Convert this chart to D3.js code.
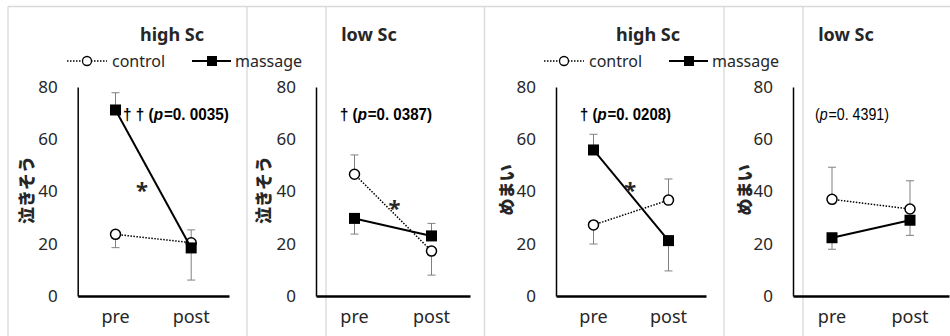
<!DOCTYPE html>
<html>
<head>
<meta charset="utf-8">
<script src="https://cdn.jsdelivr.net/npm/d3@7"></script>
<style>
  html, body { margin: 0; padding: 0; background: #fff; }
  svg { display: block; font-family: "Noto Sans", "Open Sans", sans-serif; }
</style>
</head>
<body>
<div id="chart"></div>
<script>
// data
const categories = ['pre', 'post'];
const yTicks = [0, 20, 40, 60, 80];
const panelTitles = ['high Sc', 'low Sc', 'high Sc', 'low Sc'];
const yLabels = ['泣きそう', '泣きそう', 'めまい', 'めまい'];
const seriesNames = ['control', 'massage'];
const controlMeans = [[23.6, 20.4], [46.6, 17.2], [27.2, 36.7], [37.0, 33.3]];
// signed error: + is drawn upward, - downward
const controlErr = [[-5.1, 4.9], [7.4, -9.2], [-7.3, 8.1], [12.3, 10.8]];
const massageMeans = [[71.2, 18.4], [29.7, 23.0], [55.9, 21.2], [22.3, 29.0]];
const massageErr = [[6.6, -12.3], [-6.0, 4.8], [6.0, -11.6], [-4.4, -5.8]];
const daggers = ['† † (', '† (', '† (', '('];
const pValues = ['=0. 0035)', '=0. 0387)', '=0. 0208)', '=0. 4391)'];
const significant = [true, true, true, false];
const starValues = [41, 34, 41, null];

// settings
const width = 950;
const height = 336;
const axisLeft = [77.7, 316, 556, 793];
const axisRight = [229, 470, 706, 949];
const yTop = 87;
const yBottom = 296;
const frameX = [8, 247, 326, 484.5, 724, 803];
const titleX = [172, 369, 648, 846];
const yLabelX = [25, 262, 505, 743];
const noteX = [123, 340, 580, 815];
const noteWidth = [106, 92, 91, 74];
const starFrac = [0.35, 0.52, 0.49, 0];
const legendX = [67, 544];

const svg = d3.select('#chart')
  .append('svg')
  .attr('width', width)
  .attr('height', height)
  .attr('viewBox', `0 0 ${width} ${height}`);

// light frames
const frame = svg.append('g').attr('stroke', '#d9d9d9').attr('stroke-width', 1.3);
frame.append('line').attr('x1', 8).attr('x2', width).attr('y1', 6.5).attr('y2', 6.5);
frameX.forEach(x => {
  frame.append('line').attr('x1', x).attr('x2', x).attr('y1', 6.5).attr('y2', height);
});

const y = d3.scaleLinear().domain([0, 80]).range([yBottom, yTop]);

panelTitles.forEach((title, p) => {
  const g = svg.append('g');
  const x = d3.scaleBand().domain(categories).range([axisLeft[p], axisRight[p]]);
  const cx = c => x(c) + x.bandwidth() / 2;

  // title
  g.append('text')
    .attr('x', titleX[p]).attr('y', 41)
    .attr('text-anchor', 'middle')
    .style('font-size', '18px').style('font-weight', 'bold').style('fill', '#262626')
    .text(title);

  // y axis
  const ya = g.append('g')
    .attr('transform', `translate(${axisLeft[p]},0)`)
    .call(d3.axisLeft(y).tickValues(yTicks).tickSize(0).tickPadding(20));
  ya.select('.domain').attr('stroke', '#000').attr('stroke-width', 1.5);
  ya.selectAll('text').style('font-size', '17px').style('fill', '#262626').style('font-family', '"Noto Sans", sans-serif');

  // x axis
  const xa = g.append('g')
    .attr('transform', `translate(0,${yBottom})`)
    .call(d3.axisBottom(x).tickSize(0).tickPadding(14));
  xa.select('.domain').attr('stroke', '#000').attr('stroke-width', 2.5);
  xa.selectAll('text').style('font-size', '18px').style('fill', '#262626').style('font-family', '"Noto Sans", sans-serif');

  // y label
  g.append('text')
    .attr('transform', `translate(${yLabelX[p]},190) rotate(-90)`)
    .attr('text-anchor', 'middle')
    .attr('dominant-baseline', 'central')
    .style('font-family', '"Noto Sans CJK JP", sans-serif')
    .style('font-size', '17px').style('font-weight', '900').style('fill', '#262626')
    .text(yLabels[p]);

  const series = [
    { name: 'control', means: controlMeans[p], err: controlErr[p] },
    { name: 'massage', means: massageMeans[p], err: massageErr[p] }
  ];

  // error bars
  series.forEach(s => {
    s.means.forEach((m, i) => {
      const x0 = cx(categories[i]);
      const yEnd = y(m + s.err[i]);
      g.append('line')
        .attr('x1', x0).attr('x2', x0).attr('y1', y(m)).attr('y2', yEnd)
        .attr('stroke', '#808080').attr('stroke-width', 1);
      g.append('line')
        .attr('x1', x0 - 4).attr('x2', x0 + 4).attr('y1', yEnd).attr('y2', yEnd)
        .attr('stroke', '#808080').attr('stroke-width', 1);
    });
  });

  const line = d3.line().x((d, i) => cx(categories[i])).y(d => y(d));

  series.forEach(s => {
    g.append('path')
      .attr('d', line(s.means))
      .attr('fill', 'none')
      .attr('stroke', '#000')
      .attr('stroke-width', s.name === 'control' ? 1.5 : 2)
      .attr('stroke-dasharray', s.name === 'control' ? '1.5,1.5' : null);
    s.means.forEach((m, i) => {
      if (s.name === 'control') {
        g.append('circle')
          .attr('cx', cx(categories[i])).attr('cy', y(m)).attr('r', 5)
          .attr('fill', '#fff').attr('stroke', '#000').attr('stroke-width', 1.5);
      } else {
        g.append('rect')
          .attr('x', cx(categories[i]) - 5.5).attr('y', y(m) - 5.5)
          .attr('width', 11).attr('height', 11).attr('fill', '#000');
      }
    });
  });

  // p-value note, squeezed horizontally for a condensed gothic look
  const noteG = g.append('g');
  const parts = [
    { text: daggers[p], italic: false },
    { text: 'p', italic: true },
    { text: pValues[p], italic: false }
  ];
  let cursor = 0;
  parts.forEach(part => {
    const t = noteG.append('text')
      .attr('x', cursor).attr('y', 0)
      .style('font-family', '"Liberation Sans", sans-serif')
      .style('font-size', '17px')
      .style('font-weight', significant[p] ? 'bold' : 'normal')
      .style('font-style', part.italic ? 'italic' : 'normal')
      .style('fill', '#000')
      .text(part.text);
    cursor += t.node().getComputedTextLength() + (part.italic ? 1 : 0);
  });
  noteG.attr('transform', `translate(${noteX[p]},120) scale(${noteWidth[p] / cursor},1)`);

  // significance star
  if (starValues[p] !== null) {
    const x0 = cx('pre');
    const x1 = cx('post');
    g.append('text')
      .attr('x', x0 + (x1 - x0) * starFrac[p])
      .attr('y', y(starValues[p]))
      .attr('text-anchor', 'middle')
      .attr('dominant-baseline', 'central')
      .style('font-family', '"Noto Sans", sans-serif')
      .style('font-size', '22px').style('font-weight', 'bold')
      .style('fill', '#262626')
      .text('*');
  }
});

// legends for the left chart of each pair
legendX.forEach(lx => {
  const lg = svg.append('g').attr('transform', `translate(${lx},61)`);
  lg.append('line').attr('x1', 0).attr('x2', 40).attr('stroke', '#000')
    .attr('stroke-width', 1.5).attr('stroke-dasharray', '1.5,1.5');
  lg.append('circle').attr('cx', 20).attr('r', 4.5)
    .attr('fill', '#fff').attr('stroke', '#000').attr('stroke-width', 1.3);
  lg.append('text').attr('x', 45).attr('dominant-baseline', 'central')
    .style('font-size', '16px').style('fill', '#262626').text(seriesNames[0]);
  lg.append('line').attr('x1', 125).attr('x2', 164).attr('stroke', '#000').attr('stroke-width', 2);
  lg.append('rect').attr('x', 140).attr('y', -5).attr('width', 10).attr('height', 10).attr('fill', '#000');
  lg.append('text').attr('x', 168).attr('dominant-baseline', 'central')
    .style('font-size', '16px').style('fill', '#262626').text(seriesNames[1]);
});
</script>
</body>
</html>
